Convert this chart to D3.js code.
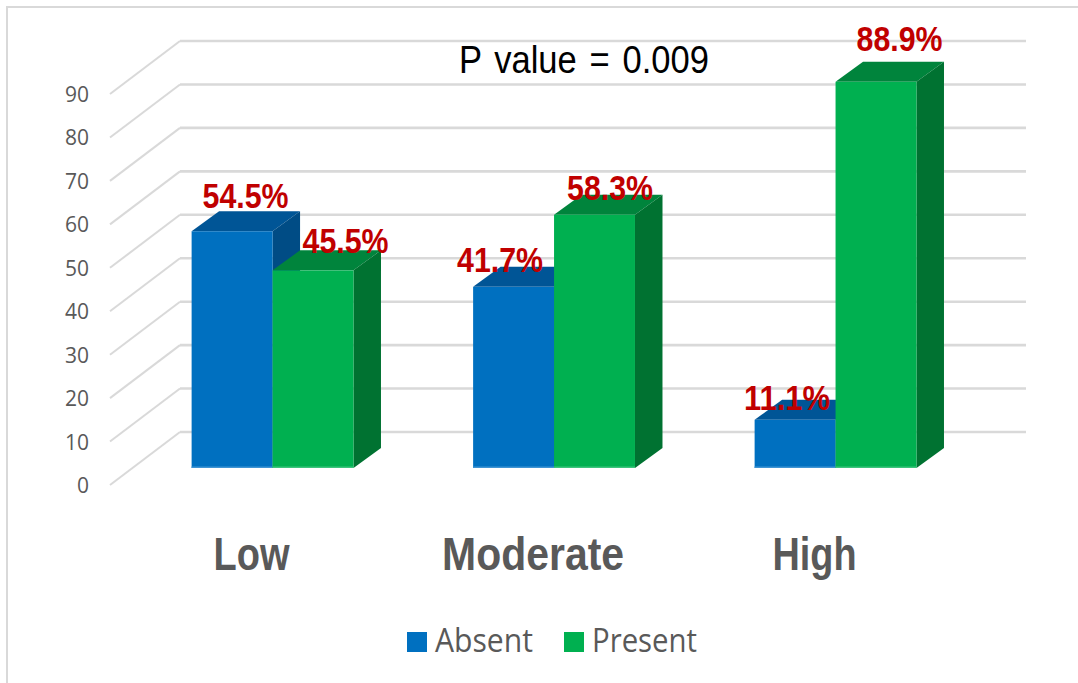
<!DOCTYPE html>
<html>
<head>
<meta charset="utf-8">
<script src="https://cdn.jsdelivr.net/npm/d3@7/dist/d3.min.js"></script>
<style>
html,body{margin:0;padding:0;background:#fff}
svg{display:block}
</style>
</head>
<body>
<svg id="chart" width="1078" height="683"></svg>
<script>
const categories = ["Low", "Moderate", "High"];
const seriesNames = ["Absent", "Present"];
const absentValues = [54.5, 41.7, 11.1];
const presentValues = [45.5, 58.3, 88.9];
const yTicks = [0, 10, 20, 30, 40, 50, 60, 70, 80, 90];
const annotation = "P value = 0.009";

const colors = {
  Absent:  {front: "#0070C0", top: "#005596", side: "#004C85", base: "#3F94D3"},
  Present: {front: "#00B050", top: "#00843C", side: "#007231", base: "#3CC47C"}
};
// hand-placed label shifts [dx from bar centre, baseline above bar top], as in the reference
const labelShift = {
  Absent:  [[13.5, 23], [-13.5, 15], [-8, 10]],
  Present: [[32.5, 17], [15.5, 14.5], [23.5, 31]]
};
const catWidths = [76, 182, 84];

const svg = d3.select("#chart");
const unit = 4.344;
const yFront = d3.scaleLinear().domain([0, 100]).range([468, 468 - 100 * unit]);
const yAxisS = d3.scaleLinear().domain([0, 100]).range([485, 485 - 100 * unit]);
const yBack  = d3.scaleLinear().domain([0, 100]).range([432, 432 - 100 * unit]);
const x0 = d3.scaleBand().domain(categories).range([131.8, 976.3]).paddingInner(0.425).paddingOuter(0.2125);
const x1 = d3.scaleBand().domain(seriesNames).range([0, x0.bandwidth()]);
const DX = 27.5, DY = 20;

// chart border: top and left only
svg.append("path").attr("d", "M7,683V7H1078").attr("fill", "none").attr("stroke", "#d9d9d9").attr("stroke-width", 2);

// walls
const grid = svg.append("g").attr("fill", "none").attr("stroke", "#d9d9d9");
grid.selectAll("path.floor").data(yTicks).join("path").attr("class", "floor")
  .attr("stroke-width", 2)
  .attr("d", d => `M110,${yAxisS(d)}L180,${yBack(d)}`);
grid.selectAll("line").data(yTicks).join("line")
  .attr("stroke-width", 2.6)
  .attr("x1", 180).attr("x2", 1026)
  .attr("y1", d => yBack(d)).attr("y2", d => yBack(d));

// y axis labels
const yAxisG = svg.append("g").attr("transform", "translate(89,0)")
  .call(d3.axisLeft(yAxisS).tickValues(yTicks).tickSize(0).tickPadding(0));
yAxisG.select(".domain").remove();
yAxisG.selectAll("text")
  .attr("font-family", "'Open Sans'").attr("font-size", 21).attr("fill", "#595959")
  .attr("dy", "7.5px");

// bars
const rows = categories.map((c, i) => ({c, i, Absent: absentValues[i], Present: presentValues[i]}));
const barG = svg.append("g");
const bars = rows.flatMap(r => seriesNames.map(s => ({cat: r.c, i: r.i, s, v: r[s]})));
bars.forEach(b => {
  const xl = x0(b.cat) + x1(b.s), xr = xl + x1.bandwidth();
  const yt = yFront(b.v), yb = yFront(0);
  const g = barG.append("g");
  g.append("path").attr("fill", colors[b.s].top)
    .attr("d", `M${xl},${yt}L${xl + DX},${yt - DY}L${xr + DX},${yt - DY}L${xr},${yt}Z`);
  g.append("path").attr("fill", colors[b.s].side)
    .attr("d", `M${xr},${yt}L${xr + DX},${yt - DY}L${xr + DX},${yb - DY}L${xr},${yb}Z`);
  g.append("rect").attr("fill", colors[b.s].front)
    .attr("x", xl).attr("y", yt).attr("width", x1.bandwidth()).attr("height", yb - yt);
  g.append("rect").attr("fill", colors[b.s].base)
    .attr("x", xl).attr("y", yb - 1.5).attr("width", x1.bandwidth()).attr("height", 1.5);
});

// data labels
svg.append("g").selectAll("text").data(bars).join("text")
  .attr("x", d => x0(d.cat) + x1(d.s) + x1.bandwidth() / 2 + labelShift[d.s][d.i][0])
  .attr("y", d => yFront(d.v) - labelShift[d.s][d.i][1])
  .attr("text-anchor", "middle")
  .attr("font-family", "'Liberation Sans Narrow','Liberation Sans'")
  .attr("font-weight", "bold").attr("font-size", 34.5).attr("fill", "#C00000")
  .attr("textLength", 86).attr("lengthAdjust", "spacingAndGlyphs")
  .text(d => d3.format(".1f")(d.v) + "%");

// category labels
const xAxisG = svg.append("g").attr("transform", "translate(-21,569.5)")
  .call(d3.axisBottom(x0).tickSize(0).tickPadding(0));
xAxisG.select(".domain").remove();
xAxisG.selectAll("text")
  .attr("font-family", "'Liberation Sans Narrow','Liberation Sans'")
  .attr("font-weight", "bold").attr("font-size", 46).attr("fill", "#595959")
  .attr("y", 0).attr("dy", 0)
  .attr("textLength", (d, i) => catWidths[i]).attr("lengthAdjust", "spacingAndGlyphs");

// annotation
svg.append("text").attr("x", 459).attr("y", 72.5)
  .attr("font-family", "'Liberation Sans'").attr("font-size", 38).attr("fill", "#000")
  .attr("word-spacing", 3.5)
  .attr("textLength", 250).attr("lengthAdjust", "spacingAndGlyphs")
  .text(annotation);

// legend
const legendX = {Absent: 407, Present: 564};
const legendW = {Absent: 98, Present: 105};
const lg = svg.append("g").selectAll("g").data(seriesNames).join("g")
  .attr("transform", d => `translate(${legendX[d]},632)`);
lg.append("rect").attr("width", 20).attr("height", 20).attr("fill", d => colors[d].front);
lg.append("text").attr("x", 28).attr("y", 19.7)
  .attr("font-family", "'Open Sans'").attr("font-size", 32).attr("fill", "#595959")
  .attr("textLength", d => legendW[d]).attr("lengthAdjust", "spacingAndGlyphs")
  .text(d => d);
</script>
</body>
</html>
